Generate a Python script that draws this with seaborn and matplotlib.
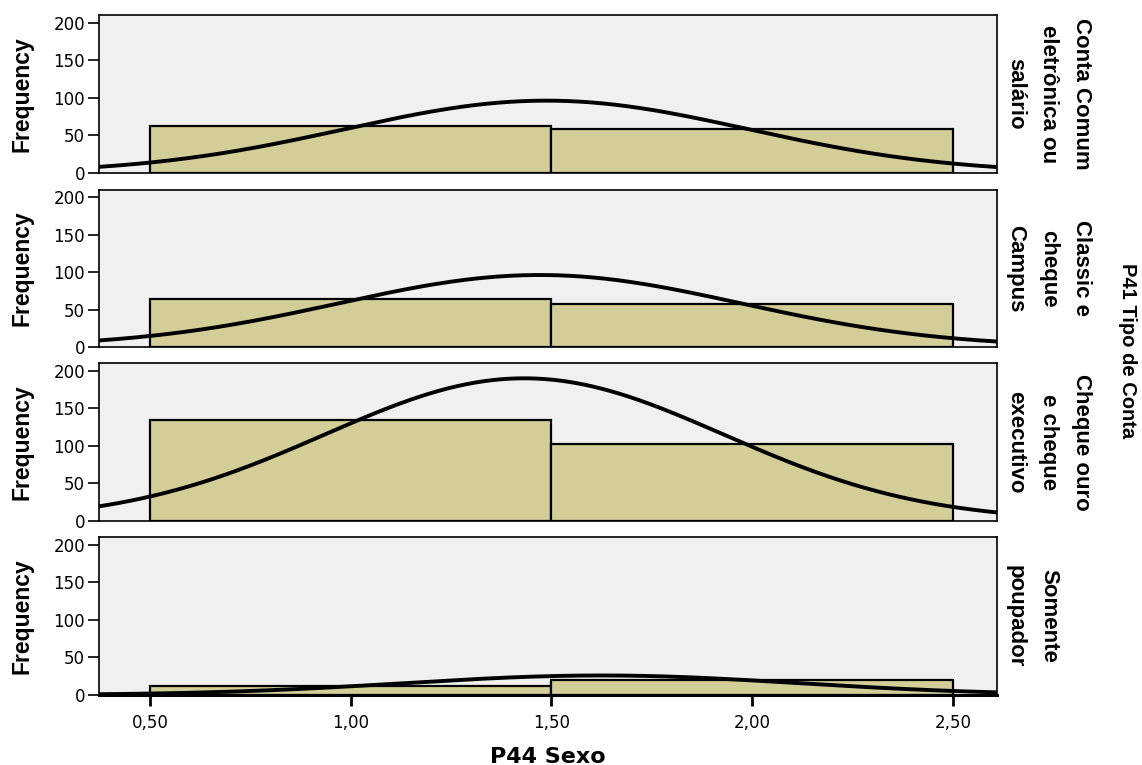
import numpy as np
import pandas as pd
import matplotlib
matplotlib.use("Agg")
import matplotlib.pyplot as plt
import seaborn as sns

# ---------------- data ----------------
account_types = [
    "Conta Comum\neletrônica ou\nsalário",
    "Classic e\ncheque\nCampus",
    "Cheque ouro\ne cheque\nexecutivo",
    "Somente\npoupador",
]
sexo_codes = [1, 2]
count_sexo1 = [62, 64, 134, 12]
count_sexo2 = [59, 57, 102, 20]
bin_edges = [0.5, 1.5, 2.5]
x_ticks = [0.5, 1.0, 1.5, 2.0, 2.5]
x_tick_labels = ["0,50", "1,00", "1,50", "2,00", "2,50"]
y_ticks = [0, 50, 100, 150, 200]
x_title = "P44 Sexo"
y_title = "Frequency"
row_title = "P41 Tipo de Conta"

rows = []
for t, c1, c2 in zip(account_types, count_sexo1, count_sexo2):
    rows.append({"tipo": t, "sexo": sexo_codes[0], "count": c1})
    rows.append({"tipo": t, "sexo": sexo_codes[1], "count": c2})
df = pd.DataFrame(rows)

# ---------------- style ----------------
sns.set_style("ticks")
plt.rcParams["font.family"] = ["DejaVu Sans"]
plt.rcParams["text.color"] = "black"
plt.rcParams["axes.labelcolor"] = "black"
plt.rcParams["xtick.color"] = "black"
plt.rcParams["ytick.color"] = "black"
BAR = "#d3ce98"
FACE = "#f0f0f0"
W, H = 1142, 765

fig = plt.figure(figsize=(W / 100, H / 100), dpi=100)

left_px, right_px = 99, 997
panels_px = [(15, 173), (190, 347), (363, 521), (537, 695)]
xlim = (0.373, 2.61)

for i, (tipo, (top, bot)) in enumerate(zip(account_types, panels_px)):
    ax = fig.add_axes([left_px / W, (H - bot) / H, (right_px - left_px) / W, (bot - top) / H])
    sub = df[df["tipo"] == tipo]
    sns.histplot(data=sub, x="sexo", weights="count", bins=bin_edges,
                 color=BAR, edgecolor="black", linewidth=1.6, alpha=1.0, ax=ax)

    # fitted normal curve from the bin counts
    w = sub["count"].to_numpy(dtype=float)
    xv = sub["sexo"].to_numpy(dtype=float)
    n = w.sum()
    mu = (w * xv).sum() / n
    sd = np.sqrt((w * (xv - mu) ** 2).sum() / (n - 1))
    xs = np.linspace(xlim[0] - 0.05, xlim[1] + 0.05, 400)
    ys = n * 1.0 * np.exp(-0.5 * ((xs - mu) / sd) ** 2) / (sd * np.sqrt(2 * np.pi))
    ax.plot(xs, ys, color="black", lw=2.8, solid_capstyle="butt")

    ax.set_facecolor(FACE)
    ax.set_xlim(*xlim)
    ax.set_ylim(0, 210)
    ax.set_yticks(y_ticks)
    ax.set_yticklabels([str(v) for v in y_ticks])
    ax.tick_params(axis="y", length=8, width=1.2, pad=2, labelsize=12, color="black",
                   labelcolor="black")
    for s in ax.spines.values():
        s.set_visible(True)
        s.set_color("black")
        s.set_linewidth(1.2)
    ax.set_ylabel(y_title, fontsize=16.5, fontweight="bold", family="Liberation Sans",
                  va="center", color="black")
    ax.yaxis.set_label_coords((22 - left_px) / (right_px - left_px), 0.5)

    if i < 3:
        ax.set_xticks([])
        ax.set_xlabel("")
    else:
        ax.spines["bottom"].set_linewidth(2.2)
        ax.set_xticks(x_ticks)
        ax.set_xticklabels(x_tick_labels)
        ax.tick_params(axis="x", length=8, width=2, pad=6, labelsize=12, color="black",
                       labelcolor="black")
        ax.set_xlabel(x_title, fontsize=16, fontweight="bold", va="center", color="black")
        ax.xaxis.set_label_coords(0.5, (bot - 757) / (bot - top))

    fig.text(1005 / W, (H - (top + bot) / 2) / H, tipo, rotation=270,
             ha="left", va="center", multialignment="center", linespacing=1.75,
             fontsize=16, fontweight="bold", family="Liberation Sans", color="black")

fig.text(1128 / W, (H - 351) / H, row_title, rotation=270, ha="center", va="center",
         fontsize=14.5, fontweight="bold", family="Liberation Sans", color="black")

fig.savefig("out.png", dpi=100)
